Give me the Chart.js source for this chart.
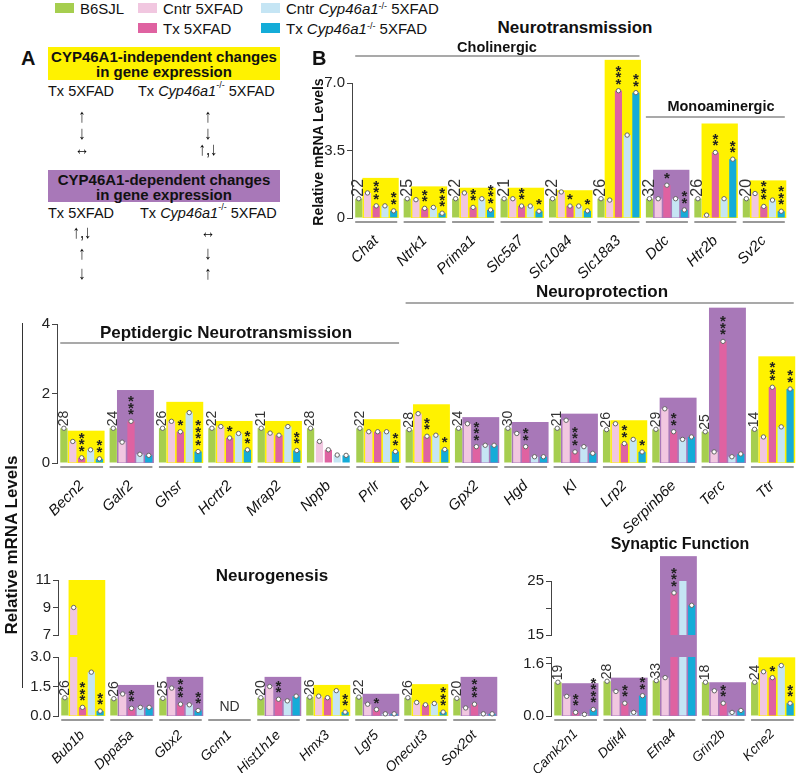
<!DOCTYPE html>
<html>
<head>
<meta charset="utf-8">
<script src="https://cdn.jsdelivr.net/npm/chart.js@4.4.0/dist/chart.umd.min.js"></script>
<style>
  body { margin:0; width:800px; height:773px; position:relative; overflow:hidden; background:#fff;
         font-family:"Liberation Sans", Arial, sans-serif; color:#111; }
  canvas { position:absolute; }
  .t { position:absolute; white-space:nowrap; }
  .b { font-weight:bold; }
  .sw { position:absolute; width:19px; height:10px; }
  .lg { position:absolute; font-size:15px; line-height:18px; white-space:nowrap; }
  .box { position:absolute; font-weight:bold; font-size:15px; line-height:15px; text-align:center; padding-top:2px; box-sizing:border-box; }
  .ar { position:absolute; width:40px; text-align:center; font-family:"Liberation Sans", "DejaVu Sans", sans-serif; font-size:15px; line-height:16px; color:#000; transform:scaleY(1.25); opacity:0.99; will-change:transform; }
  .rot { position:absolute; transform:rotate(-90deg); text-align:center; font-weight:bold; white-space:nowrap; }
  sup { font-size:9px; vertical-align:top; position:relative; top:-3px; }
  .ttl { position:absolute; font-weight:bold; text-align:center; white-space:nowrap; transform:translate(-50%,-50%); }
</style>
</head>
<body>
<canvas id="cB" width="495" height="260" style="left:300px;top:40px"></canvas>
<canvas id="cM" width="800" height="245" style="left:0px;top:290px"></canvas>
<canvas id="cNGu" width="510" height="86" style="left:0px;top:560px"></canvas>
<canvas id="cNGl" width="510" height="127" style="left:0px;top:646px"></canvas>
<canvas id="cSFu" width="330" height="106" style="left:470px;top:540px"></canvas>
<canvas id="cSFl" width="330" height="127" style="left:470px;top:646px"></canvas>

<!-- legend -->
<div class="sw" style="left:55px;top:3px;background:#a6ce4f"></div>
<div class="lg" style="left:80px;top:0px">B6SJL</div>
<div class="sw" style="left:138px;top:3px;background:#f1c7e0"></div>
<div class="lg" style="left:163px;top:0px">Cntr 5XFAD</div>
<div class="sw" style="left:138px;top:23px;background:#df62a1"></div>
<div class="lg" style="left:163px;top:20px">Tx 5XFAD</div>
<div class="sw" style="left:261px;top:3px;background:#c5e5f4"></div>
<div class="lg" style="left:286px;top:0px">Cntr <i>Cyp46a1</i><sup>-/-</sup> 5XFAD</div>
<div class="sw" style="left:261px;top:23px;background:#14acd8"></div>
<div class="lg" style="left:286px;top:20px">Tx <i>Cyp46a1</i><sup>-/-</sup> 5XFAD</div>

<!-- panel A -->
<div class="t b" style="left:21px;top:47px;font-size:20px">A</div>
<div class="box" style="left:48px;top:47px;width:232px;height:33px;background:#fff200">CYP46A1-independent changes<br>in gene expression</div>
<div class="t" style="left:48px;top:83px;font-size:14.5px">Tx 5XFAD</div>
<div class="t" style="left:138px;top:83px;font-size:14.5px">Tx <i>Cyp46a1</i><sup>-/-</sup> 5XFAD</div>
<div class="ar" style="left:62px;top:108px">↑</div>
<div class="ar" style="left:62px;top:125px">↓</div>
<div class="ar" style="left:62px;top:141px">↔</div>
<div class="ar" style="left:188px;top:108px">↑</div>
<div class="ar" style="left:188px;top:125px">↓</div>
<div class="ar" style="left:188px;top:141px">↑,↓</div>
<div class="box" style="left:48px;top:170px;width:232px;height:32px;background:#a878b8">CYP46A1-dependent changes<br>in gene expression</div>
<div class="t" style="left:48px;top:205px;font-size:14.5px">Tx 5XFAD</div>
<div class="t" style="left:140px;top:205px;font-size:14.5px">Tx <i>Cyp46a1</i><sup>-/-</sup> 5XFAD</div>
<div class="ar" style="left:62px;top:224px">↑,↓</div>
<div class="ar" style="left:62px;top:245px">↑</div>
<div class="ar" style="left:62px;top:265px">↓</div>
<div class="ar" style="left:188px;top:224px">↔</div>
<div class="ar" style="left:188px;top:245px">↓</div>
<div class="ar" style="left:188px;top:265px">↑</div>

<!-- titles -->
<div class="t b" style="left:312px;top:47px;font-size:20px">B</div>
<div class="ttl" style="left:575px;top:28px;font-size:17px">Neurotransmission</div>
<div class="ttl" style="left:497px;top:47px;font-size:14.5px">Cholinergic</div>
<div class="ttl" style="left:721px;top:106px;font-size:14.5px">Monoaminergic</div>
<div class="ttl" style="left:602px;top:292px;font-size:17px">Neuroprotection</div>
<div class="ttl" style="left:226px;top:333px;font-size:17px">Peptidergic Neurotransmission</div>
<div class="ttl" style="left:272px;top:576px;font-size:17px">Neurogenesis</div>
<div class="ttl" style="left:680px;top:544px;font-size:16px">Synaptic Function</div>
<div class="rot" style="left:243px;top:144px;width:150px;font-size:14px;line-height:16px">Relative mRNA Levels</div>
<div class="rot" style="left:-88px;top:535px;width:200px;font-size:17px;line-height:20px">Relative mRNA Levels</div>
<div style="position:absolute;left:22px;top:323px;width:1px;height:365px;background:#333"></div>

<script>
// series
const seriesNames = ['B6SJL', 'Cntr 5XFAD', 'Tx 5XFAD', 'Cntr Cyp46a1-/- 5XFAD', 'Tx Cyp46a1-/- 5XFAD'];
const seriesColors = ['#a6ce4f', '#f1c7e0', '#df62a1', '#c5e5f4', '#14acd8'];
const YELLOW = '#fff200', PURPLE = '#a878b8';

// B: neurotransmission
const ntGenes = ['Chat', 'Ntrk1', 'Prima1', 'Slc5a7', 'Slc10a4', 'Slc18a3', 'Ddc', 'Htr2b', 'Sv2c'];
const ntB6 = [1.0, 1.0, 1.0, 1.0, 1.0, 1.0, 1.0, 1.0, 1.0];
const ntCntr = [1.3, 0.95, 1.3, 1.0, 1.35, 0.93, 1.0, 0.15, 1.27];
const ntTx = [0.63, 0.5, 0.55, 0.62, 0.62, 6.6, 1.7, 3.4, 0.6];
const ntCntrCyp = [0.63, 0.55, 1.0, 0.62, 0.62, 4.3, 1.0, 1.0, 0.93];
const ntTxCyp = [0.37, 0.25, 0.42, 0.35, 0.37, 6.5, 0.42, 3.05, 0.35];
const ntN = [22, 25, 22, 21, 22, 26, 32, 26, 20];
const ntStarsTx = [3, 2, 2, 2, 1, 3, 1, 2, 3];
const ntStarsTxCyp = [2, 3, 3, 1, 1, 2, 2, 2, 3];
const ntBox = ['y', 'y', 'y', 'y', 'y', 'y', 'p', 'y', 'y'];
const ntBoxTop = [2.08, 1.64, 1.57, 1.57, 1.44, 8.2, 2.5, 4.9, 1.95];
const ntTicks = [0, 3.5, 7];
const ntTickLabels = ['0', '3.5', '7.0'];

// peptidergic + neuroprotection
const npGenes = ['Becn2', 'Galr2', 'Ghsr', 'Hcrtr2', 'Mrap2', 'Nppb', 'Prlr', 'Bco1', 'Gpx2', 'Hgd', 'Kl', 'Lrp2', 'Serpinb6e', 'Terc', 'Ttr'];
const npB6 = [1.0, 1.0, 1.0, 1.0, 1.0, 1.0, 1.0, 0.96, 1.0, 1.0, 1.0, 0.96, 0.97, 0.9, 0.97];
const npCntr = [0.62, 0.6, 1.2, 1.05, 0.86, 0.62, 0.9, 1.42, 1.13, 0.85, 1.23, 1.13, 1.56, 0.32, 0.75];
const npTx = [0.15, 1.2, 0.9, 0.72, 0.8, 0.38, 0.9, 0.77, 0.47, 0.47, 0.32, 0.56, 0.9, 3.5, 2.18];
const npCntrCyp = [0.38, 0.25, 1.45, 0.85, 1.05, 0.23, 0.9, 0.8, 0.51, 0.18, 0.47, 0.68, 0.68, 0.18, 1.04];
const npTxCyp = [0.12, 0.22, 0.33, 0.38, 0.36, 0.22, 0.33, 0.39, 0.51, 0.18, 0.28, 0.32, 0.75, 0.26, 2.13];
const npN = [28, 24, 26, 22, 21, 28, 22, 28, 24, 30, 21, 26, 29, 25, 14];
const npStarsTx = [3, 3, 1, 1, 0, 0, 0, 2, 3, 2, 3, 2, 2, 3, 3];
const npStarsTxCyp = [2, 0, 4, 2, 2, 0, 2, 1, 0, 0, 0, 1, 0, 0, 2];
const npBox = ['y', 'p', 'y', 'y', 'y', null, 'y', 'y', 'p', 'p', 'p', 'y', 'p', 'p', 'y'];
const npBoxTop = [0.93, 2.1, 1.76, 1.21, 1.21, 0, 1.26, 1.69, 1.32, 1.18, 1.42, 1.23, 1.88, 4.47, 3.07];
const npTicks = [0, 2, 4];
const npTickLabels = ['0', '2', '4'];

// neurogenesis (broken axis)
const ngGenes = ['Bub1b', 'Dppa5a', 'Gbx2', 'Gcm1', 'Hist1h1e', 'Hmx3', 'Lgr5', 'Onecut3', 'Sox2ot'];
const ngB6 = [0.93, 0.88, 0.9, null, 0.93, 0.96, 0.96, 0.93, 0.9];
const ngCntr = [9.0, 1.12, 1.42, null, 1.5, 1.01, 0.6, 0.69, 0.41];
const ngTx = [0.44, 0.39, 0.6, null, 0.85, 0.93, 0.33, 0.57, 0.6];
const ngCntrCyp = [2.23, 0.44, 0.57, null, 0.77, 1.29, 0.11, 0.64, 0.11];
const ngTxCyp = [0.25, 0.44, 0.28, null, 1.01, 0.2, 0.11, 0.2, 0.11];
const ngN = [26, 26, 25, null, 20, 26, 22, 26, 20];
const ngStarsTx = [3, 2, 3, 0, 2, 0, 1, 0, 3];
const ngStarsTxCyp = [2, 0, 2, 0, 0, 2, 0, 3, 0];
const ngBox = ['y', 'p', 'p', null, 'p', 'y', 'p', 'y', 'p'];
const ngBoxTop = [11, 1.58, 1.99, 0, 1.99, 1.58, 1.13, 1.62, 1.99];
const ngTicksLow = [0, 1.5, 3];
const ngTickLabelsLow = ['0.0', '1.5', '3.0'];
const ngTicksUp = [7, 9, 11];
const ngTickLabelsUp = ['7', '9', '11'];

// synaptic function (broken axis)
const sfGenes = ['Camk2n1', 'Ddit4l', 'Efna4', 'Grin2b', 'Kcne2'];
const sfB6 = [1.03, 1.06, 1.08, 1.03, 1.03];
const sfCntr = [0.6, 0.75, 1.17, 0.77, 1.35];
const sfTx = [0.11, 0.39, 22.8, 0.39, 1.17];
const sfCntrCyp = [0.05, 0.11, 25.2, 0.11, 1.54];
const sfTxCyp = [0.2, 0.62, 20.5, 0.17, 0.39];
const sfN = [19, 28, 33, 18, 24];
const sfStarsTx = [2, 2, 3, 2, 1];
const sfStarsTxCyp = [4, 2, 0, 0, 2];
const sfBox = ['p', 'p', 'p', 'p', 'y'];
const sfBoxTop = [1.0, 1.17, 29.6, 1.03, 1.79];
const sfTicksLow = [0, 1.6, 1.8];
const sfTickLabelsLow = ['0.0', '1.6', ''];
const sfTicksUp = [15, 20, 25];
const sfTickLabelsUp = ['15', '', '25'];

Chart.defaults.font.family = '"Liberation Sans", Arial, sans-serif';
Chart.defaults.color = '#222';
const CAT = 0.9, BARP = 0.82;

// position of bar k in category i
function slotOf(chart, i, k) {
  const a = chart.chartArea;
  const n = chart.data.labels.length;
  const cw = (a.right - a.left) / n;
  const c = a.left + (i + 0.5) * cw;
  const chunk = cw * CAT / 5;
  const mid = c - cw * CAT / 2 + chunk * k + chunk / 2;
  const w = chunk * BARP;
  return {l: mid - w / 2, r: mid + w / 2, c: mid, gc: c};
}

function decor(cfg) {
  return {
    id: 'decor',
    beforeDatasetsDraw(chart) {
      const ctx = chart.ctx, ys = chart.scales.y;
      ctx.save();
      cfg.box.forEach((b, i) => {
        if (!b) return;
        const top = cfg.boxTop[i];
        let yT = ys.getPixelForValue(top), yB = ys.getPixelForValue(0);
        if (cfg.part === 'up') {
          if (top <= ys.min) return;
          yB = chart.height;
        }
        if (cfg.part === 'low' && top > ys.max) yT = 0;
        const s1 = slotOf(chart, i, 1), s4 = slotOf(chart, i, 4);
        ctx.fillStyle = b === 'y' ? YELLOW : PURPLE;
        ctx.fillRect(s1.l - 1.5, yT, s4.r - s1.l + 3, yB - yT);
      });
      if (cfg.part !== 'up') {
        const y0 = ys.getPixelForValue(0) + 4;
        ctx.strokeStyle = '#777';
        ctx.lineWidth = 1.5;
        chart.data.labels.forEach((g, i) => {
          const s0 = slotOf(chart, i, 0), s4 = slotOf(chart, i, 4);
          ctx.beginPath();
          ctx.moveTo(s0.l, y0);
          ctx.lineTo(s4.r, y0);
          ctx.stroke();
        });
      }
      ctx.restore();
    },
    afterDatasetsDraw(chart) {
      const ctx = chart.ctx, ys = chart.scales.y;
      const inRange = v => v != null && v >= ys.min && v <= ys.max;
      ctx.save();
      // points at bar tops
      chart.data.datasets.forEach((ds, k) => {
        ds.data.forEach((v, i) => {
          if (!inRange(v)) return;
          const s = slotOf(chart, i, k);
          ctx.beginPath();
          ctx.arc(s.c, ys.getPixelForValue(v), 2.2, 0, Math.PI * 2);
          ctx.fillStyle = '#fff';
          ctx.fill();
          ctx.strokeStyle = '#666';
          ctx.lineWidth = 1;
          ctx.stroke();
        });
      });
      // significance stars
      ctx.fillStyle = '#222';
      ctx.font = 'bold 15px "Liberation Sans", Arial, sans-serif';
      ctx.textAlign = 'center';
      ctx.textBaseline = 'alphabetic';
      [[2, cfg.starsTx], [4, cfg.starsTxCyp]].forEach(([k, arr]) => {
        arr.forEach((n, i) => {
          const v = chart.data.datasets[k].data[i];
          if (!n || !inRange(v)) return;
          const s = slotOf(chart, i, k);
          const yt = ys.getPixelForValue(v);
          for (let j = 0; j < n; j++) {
            ctx.fillText('*', s.c, yt - 10 - j * 6.5 + 8);
          }
        });
      });
      // rotated counts above green bars
      if (cfg.part !== 'up') {
        ctx.fillStyle = '#333';
        ctx.font = cfg.numSize + 'px "Liberation Sans", Arial, sans-serif';
        cfg.n.forEach((n, i) => {
          const v = chart.data.datasets[0].data[i];
          if (n == null || !inRange(v)) return;
          const s = slotOf(chart, i, 0);
          ctx.save();
          ctx.translate(s.c, ys.getPixelForValue(v) - 2);
          ctx.rotate(-Math.PI / 2);
          ctx.textAlign = 'left';
          ctx.textBaseline = 'middle';
          ctx.fillText(String(n), 0, 0);
          ctx.restore();
        });
        // not detected
        chart.data.labels.forEach((g, i) => {
          if (chart.data.datasets.every(ds => ds.data[i] == null)) {
            const s = slotOf(chart, i, 2);
            ctx.font = '14px "Liberation Sans", Arial, sans-serif';
            ctx.textAlign = 'center';
            ctx.textBaseline = 'middle';
            ctx.fillText('ND', s.gc, ys.getPixelForValue(0) - 9);
          }
        });
      }
      // group brackets
      (cfg.brackets || []).forEach(br => {
        const a = slotOf(chart, br.from, 0), b = slotOf(chart, br.to, 4);
        ctx.strokeStyle = '#555';
        ctx.lineWidth = 1.2;
        ctx.beginPath();
        ctx.moveTo(a.l, br.y);
        ctx.lineTo(b.r, br.y);
        ctx.stroke();
      });
      ctx.restore();
    }
  };
}

function sets(cols) {
  return cols.map((d, k) => ({
    label: seriesNames[k],
    data: d,
    backgroundColor: seriesColors[k],
    categoryPercentage: CAT,
    barPercentage: BARP,
    clip: 0
  }));
}

function opts(o) {
  return {
    responsive: false,
    animation: false,
    layout: {padding: o.pad},
    plugins: {legend: {display: false}, tooltip: {enabled: false}},
    scales: {
      x: {
        display: o.showX,
        grid: {display: false},
        border: {display: false},
        ticks: {autoSkip: false, minRotation: 45, maxRotation: 45, padding: o.xPad || 6, color: '#111',
                font: {size: o.xFont || 15, style: 'italic'}},
        afterFit: s => { s.height = o.xH || 0; }
      },
      y: {
        min: o.min, max: o.max,
        grid: {drawOnChartArea: false, color: '#444', tickColor: '#444', tickLength: 5},
        border: {color: '#444', width: 1},
        ticks: {padding: 2, color: '#222', font: {size: 15}, callback: (v, i) => o.labels[i]},
        afterBuildTicks: s => { s.ticks = o.ticks.map(v => ({value: v})); },
        afterFit: s => { s.width = o.yW; }
      }
    }
  };
}

function makeChart(id, labels, cols, o, cfg) {
  return new Chart(document.getElementById(id), {
    type: 'bar',
    data: {labels: labels, datasets: sets(cols)},
    options: opts(o),
    plugins: [decor(cfg)]
  });
}

makeChart('cB', ntGenes, [ntB6, ntCntr, ntTx, ntCntrCyp, ntTxCyp],
  {min: 0, max: 7, ticks: ntTicks, labels: ntTickLabels, yW: 52, xH: 82, showX: true,
   pad: {top: 43, right: 7, bottom: 0, left: 0}},
  {part: 'single', box: ntBox, boxTop: ntBoxTop, starsTx: ntStarsTx, starsTxCyp: ntStarsTxCyp,
   n: ntN, numSize: 16, brackets: [{from: 0, to: 5, y: 16}, {from: 6, to: 8, y: 77}]});

makeChart('cM', npGenes, [npB6, npCntr, npTx, npCntrCyp, npTxCyp],
  {min: 0, max: 4, ticks: npTicks, labels: npTickLabels, yW: 57, xH: 72, showX: true,
   pad: {top: 34, right: 3, bottom: 0, left: 0}},
  {part: 'single', box: npBox, boxTop: npBoxTop, starsTx: npStarsTx, starsTxCyp: npStarsTxCyp,
   n: npN, numSize: 14, brackets: [{from: 0, to: 6, y: 53}, {from: 7, to: 14, y: 13}]});

const ngCols = [ngB6, ngCntr, ngTx, ngCntrCyp, ngTxCyp];
makeChart('cNGu', ngGenes, ngCols,
  {min: 7, max: 11, ticks: ngTicksUp, labels: ngTickLabelsUp, yW: 58, showX: false,
   pad: {top: 20, right: 11, bottom: 7, left: 0}},
  {part: 'up', box: ngBox, boxTop: ngBoxTop, starsTx: ngStarsTx, starsTxCyp: ngStarsTxCyp, n: ngN, numSize: 14});
makeChart('cNGl', ngGenes, ngCols,
  {min: 0, max: 3, ticks: ngTicksLow, labels: ngTickLabelsLow, yW: 58, xH: 57, showX: true, xFont: 14, xPad: 3,
   pad: {top: 8, right: 11, bottom: 0, left: 0}},
  {part: 'low', box: ngBox, boxTop: ngBoxTop, starsTx: ngStarsTx, starsTxCyp: ngStarsTxCyp, n: ngN, numSize: 14});

const sfCols = [sfB6, sfCntr, sfTx, sfCntrCyp, sfTxCyp];
makeChart('cSFu', sfGenes, sfCols,
  {min: 15, max: 25, ticks: sfTicksUp, labels: sfTickLabelsUp, yW: 81, showX: false,
   pad: {top: 41, right: 3, bottom: 11, left: 0}},
  {part: 'up', box: sfBox, boxTop: sfBoxTop, starsTx: sfStarsTx, starsTxCyp: sfStarsTxCyp, n: sfN, numSize: 14});
makeChart('cSFl', sfGenes, sfCols,
  {min: 0, max: 1.8, ticks: sfTicksLow, labels: sfTickLabelsLow, yW: 81, xH: 57, showX: true, xFont: 13.5, xPad: 2,
   pad: {top: 5, right: 3, bottom: 0, left: 0}},
  {part: 'low', box: sfBox, boxTop: sfBoxTop, starsTx: sfStarsTx, starsTxCyp: sfStarsTxCyp, n: sfN, numSize: 14});
</script>
</body>
</html>
